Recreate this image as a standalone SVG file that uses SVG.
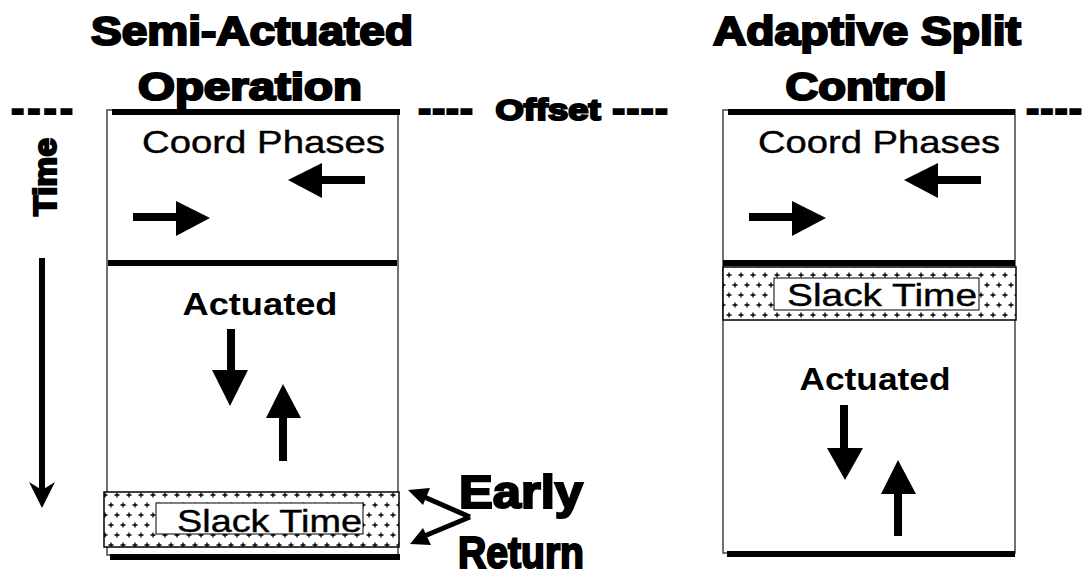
<svg xmlns="http://www.w3.org/2000/svg" width="1086" height="576" viewBox="0 0 1086 576">
<style>
.title{font-family:"Liberation Sans",Arial,sans-serif;font-weight:bold;fill:#000;stroke:#000;stroke-width:2.2;text-anchor:middle}
.dash{font-family:"Liberation Sans",Arial,sans-serif;font-weight:bold;font-size:40px;fill:#000;stroke:#000;stroke-width:1.8}
.reg{font-family:"Liberation Sans",Arial,sans-serif;font-size:32px;fill:#000;stroke:#000;stroke-width:0.4}
.act{font-family:"Liberation Sans",Arial,sans-serif;font-weight:bold;font-size:31px;fill:#000;text-anchor:middle}
.box{fill:#fff;stroke:#444;stroke-width:1.5}
.thick{stroke:#000;stroke-width:6;fill:none}
.arr{fill:#000;stroke:none}
.slack{fill:url(#plus);stroke:#000;stroke-width:1.5}
.inner{fill:#fff;stroke:#000;stroke-width:1}
.conn{stroke:#000;stroke-width:5;fill:none}
</style>
<defs>
<pattern id="plus" width="12" height="20" patternUnits="userSpaceOnUse">
<rect width="12" height="20" fill="#fff"/>
<path d="M0.5 5h5M3 2.5v5M6.5 15h5M9 12.5v5" stroke="#000" stroke-width="1.3"/>
</pattern>
</defs>
<rect width="1086" height="576" fill="#fff"/>

<g id="titles">
<text class="title" x="252" y="45" font-size="40" textLength="322" lengthAdjust="spacingAndGlyphs">Semi-Actuated</text>
<text class="title" x="250" y="100" font-size="38" textLength="224" lengthAdjust="spacingAndGlyphs">Operation</text>
<text class="title" x="867" y="45" font-size="40" textLength="308" lengthAdjust="spacingAndGlyphs">Adaptive Split</text>
<text class="title" x="866" y="100" font-size="38" textLength="161" lengthAdjust="spacingAndGlyphs">Control</text>
</g>

<g id="offset">
<text class="dash" x="11" y="121.5" textLength="62" lengthAdjust="spacing">----</text>
<text class="dash" x="418" y="121.5" textLength="55" lengthAdjust="spacing">----</text>
<text class="title" x="548" y="120" font-size="30" stroke-width="1.2" textLength="105" lengthAdjust="spacingAndGlyphs">Offset</text>
<text class="dash" x="612" y="121.5" textLength="56" lengthAdjust="spacing">----</text>
<text class="dash" x="1026" y="121.5" textLength="56" lengthAdjust="spacing">----</text>
</g>

<g id="time-axis">
<text class="title" transform="translate(56,177) rotate(-90)" x="0" y="0" font-size="32" stroke-width="1.2" textLength="78" lengthAdjust="spacingAndGlyphs">Time</text>
<path class="arr" d="M39 258h6v232h-6z"/>
<path class="arr" d="M29 482L42 508L55 482L42 490z"/>
</g>

<g id="semi-actuated">
<rect class="box" x="107" y="110" width="291" height="445"/>
<line class="thick" x1="112" y1="112" x2="400" y2="112"/>
<text class="reg" x="142" y="153" textLength="243" lengthAdjust="spacingAndGlyphs">Coord Phases</text>
<path class="arr" d="M365 176V184H322V198L288 180L322 163V176z"/>
<path class="arr" d="M133 213H176V201L210 218L176 236V221H133z"/>
<line class="thick" x1="108" y1="263" x2="397" y2="263" stroke-width="7"/>
<text class="act" x="260" y="315" textLength="155" lengthAdjust="spacingAndGlyphs">Actuated</text>
<path class="arr" d="M227 329H235V370H248L230 406L212 370H227z"/>
<path class="arr" d="M279 461V418H266L283 384L301 418H287V461z"/>
<rect class="slack" x="104" y="492" width="295" height="55"/>
<rect class="inner" x="156" y="503" width="207" height="31"/>
<text class="reg" x="177" y="532" font-size="31" textLength="185" lengthAdjust="spacingAndGlyphs">Slack Time</text>
<line class="thick" x1="110" y1="557" x2="400" y2="557"/>
</g>

<g id="adaptive-split">
<rect class="box" x="723" y="110" width="292" height="443"/>
<line class="thick" x1="728" y1="112" x2="1015" y2="112"/>
<text class="reg" x="758" y="153" textLength="242" lengthAdjust="spacingAndGlyphs">Coord Phases</text>
<path class="arr" d="M981 176V184H938V198L904 180L938 163V176z"/>
<path class="arr" d="M749 213H792V201L826 218L792 236V221H749z"/>
<line class="thick" x1="723" y1="263" x2="1015" y2="263" stroke-width="7"/>
<rect class="slack" x="723" y="267" width="293" height="53"/>
<rect class="inner" x="774" y="278" width="205" height="32"/>
<text class="reg" x="787" y="306" font-size="31" textLength="190" lengthAdjust="spacingAndGlyphs">Slack Time</text>
<text class="act" x="875" y="390" textLength="151" lengthAdjust="spacingAndGlyphs">Actuated</text>
<path class="arr" d="M840 405H848V448H863L845 480L827 448H840z"/>
<path class="arr" d="M894 536V494H881L898 460L916 494H902V536z"/>
<line class="thick" x1="727" y1="554" x2="1015" y2="554"/>
</g>

<g id="early-return">
<text class="title" x="521" y="508" font-size="47" textLength="124" lengthAdjust="spacingAndGlyphs">Early</text>
<text class="title" x="521" y="568" font-size="45" textLength="126" lengthAdjust="spacingAndGlyphs">Return</text>
</g>

<g id="connectors">
<path class="conn" d="M470 517L422 496"/>
<path class="conn" d="M470 517L422 537"/>
<path class="arr" d="M408 490L430 488L423 505z"/>
<path class="arr" d="M410 544L423 528L431 545z"/>
</g>
</svg>
